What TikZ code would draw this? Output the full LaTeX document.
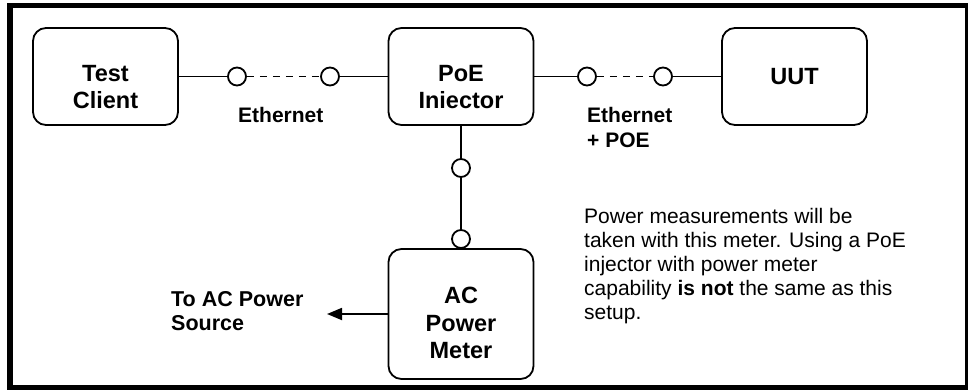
\documentclass[tikz,border=0pt]{standalone}
\usepackage{fontspec}
\setmainfont{Liberation Sans}
\usetikzlibrary{arrows.meta}

\begin{document}
\begin{tikzpicture}[x=1pt,y=-1pt,
  unit/.style={draw, line width=1.8pt, rounded corners=13pt, minimum width=145pt, inner sep=0pt},
  unittext/.style={font=\fontsize{23.5}{27.5}\selectfont\bfseries, align=center, inner sep=0pt},
  conn/.style={circle, draw, line width=1.8pt, fill=white, minimum size=18pt, inner sep=0pt},
  wire/.style={line width=1.8pt},
  lbl/.style={font=\fontsize{21}{25}\selectfont\bfseries, align=left, inner sep=0pt, anchor=north west}]

\def\xmax{973}
  \def\ymax{391}
  \def\ylink{76.5}

\useasboundingbox (0,0) rectangle (\xmax,\ymax);
\fill[white] (0,0) rectangle (\xmax,\ymax);

% outer frame
\fill[black] (7,3) rectangle (968,390);
\fill[white] (13,8) rectangle (965,385);

% units
\node[unit, minimum height=97pt] (client) at (105.5,\ylink) {};
\node[unit, minimum height=97pt] (injector) at (461,\ylink) {};
\node[unit, minimum height=97pt] (uut) at (794.5,\ylink) {};
\node[unit, minimum height=130pt] (meter) at (461,314) {};

\node[unittext] (client-t) at ([yshift=-10.5pt]client.center) {Test\\Client};
\node[unittext] (injector-t) at ([yshift=-10.5pt]injector.center) {PoE\\Iniector};
\node[unittext] (uut-t) at (uut.center) {UUT};
\node[unittext] (meter-t) at ([yshift=-9pt]meter.center) {AC\\Power\\Meter};

% connectors
\foreach \name/\pos in {c1/{(237,\ylink)}, c2/{(330,\ylink)}, c3/{(587,\ylink)}, c4/{(663,\ylink)}, c5/{(461,168)}, c6/{(461,239)}}
         \node[conn] (\name) at \pos {};

\draw[wire] (client.east) -- (c1);
\draw[wire, dash pattern=on 7pt off 6pt] (c1) -- (c2);
\draw[wire] (c2) -- (injector.west);
\draw[wire] (injector.east) -- (c3);
\draw[wire, dash pattern=on 7pt off 6pt] (c3) -- (c4);
\draw[wire] (c4) -- (uut.west);
\draw[wire] (injector.south) -- (c5);
\draw[wire] (c5) -- (c6);
\draw[wire] (c6) -- (meter.north);

\coordinate (acsrc) at (327,314);
\draw[wire, -{Triangle[length=15pt,width=12pt]}] (meter.west) -- (acsrc);

% labels
\node[lbl] (eth) at (238,107) {Ethernet};
\node[lbl] (ethpoe) at (587,107) {Ethernet\\+ POE};
\node[lbl, font=\fontsize{21.5}{24}\selectfont\bfseries] (acsrc-t) at (171,291) {To AC Power\\Source};

\node[lbl, font=\fontsize{21}{24}\selectfont] (note) at (584,208)
  {Power measurements will be\\taken with this meter. Using a PoE\\injector with power meter\\capability \textbf{is not} the same as this\\setup.};
\end{tikzpicture}
\end{document}
